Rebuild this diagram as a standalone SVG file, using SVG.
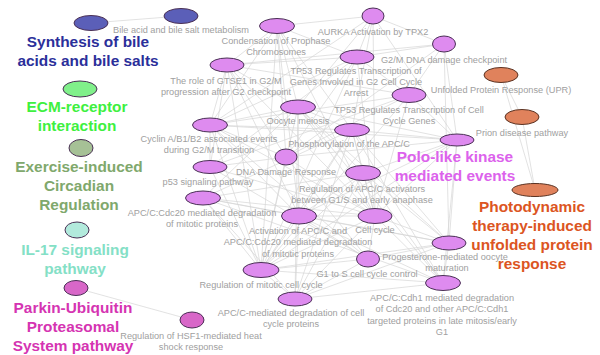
<svg xmlns="http://www.w3.org/2000/svg" width="600" height="355" viewBox="0 0 600 355">
<style>
.e line{stroke:#d6d6d6;stroke-width:0.7;fill:none}
.n{stroke:#4a3055;stroke-width:1}
.p{fill:#de8bef}
.o{fill:#e0825c;stroke:#5a3222}
.lb{font-family:"Liberation Sans",Arial,sans-serif;font-size:9.2px;fill:#a0a0a0;text-anchor:middle}
.big{font-family:"Liberation Sans",Arial,sans-serif;font-size:15.4px;font-weight:bold;text-anchor:middle}
</style>
<rect width="600" height="355" fill="#ffffff"/>
<g id="connectors" class="e">
<line x1="91" y1="23" x2="181" y2="16"/>
<line x1="76" y1="288" x2="192" y2="320"/>
<line x1="501" y1="75" x2="522" y2="117"/>
<line x1="522" y1="117" x2="535" y2="190"/>
<line x1="501" y1="75" x2="535" y2="190"/>
<line x1="277" y1="26" x2="373" y2="16"/>
<line x1="277" y1="26" x2="357" y2="57"/>
<line x1="277" y1="26" x2="227" y2="65"/>
<line x1="277" y1="26" x2="298" y2="107"/>
<line x1="277" y1="26" x2="210" y2="125"/>
<line x1="277" y1="26" x2="352" y2="130"/>
<line x1="277" y1="26" x2="299" y2="216"/>
<line x1="277" y1="26" x2="261" y2="270"/>
<line x1="277" y1="26" x2="375" y2="216"/>
<line x1="277" y1="26" x2="286" y2="157"/>
<line x1="373" y1="16" x2="444" y2="44"/>
<line x1="373" y1="16" x2="357" y2="57"/>
<line x1="373" y1="16" x2="352" y2="130"/>
<line x1="373" y1="16" x2="457" y2="140"/>
<line x1="373" y1="16" x2="210" y2="125"/>
<line x1="373" y1="16" x2="298" y2="107"/>
<line x1="373" y1="16" x2="375" y2="216"/>
<line x1="444" y1="44" x2="357" y2="57"/>
<line x1="444" y1="44" x2="409" y2="95"/>
<line x1="444" y1="44" x2="457" y2="140"/>
<line x1="444" y1="44" x2="449" y2="243"/>
<line x1="444" y1="44" x2="286" y2="157"/>
<line x1="444" y1="44" x2="227" y2="65"/>
<line x1="357" y1="57" x2="227" y2="65"/>
<line x1="357" y1="57" x2="409" y2="95"/>
<line x1="357" y1="57" x2="286" y2="157"/>
<line x1="357" y1="57" x2="210" y2="167"/>
<line x1="357" y1="57" x2="210" y2="125"/>
<line x1="357" y1="57" x2="375" y2="216"/>
<line x1="357" y1="57" x2="261" y2="270"/>
<line x1="227" y1="65" x2="210" y2="125"/>
<line x1="227" y1="65" x2="210" y2="167"/>
<line x1="227" y1="65" x2="286" y2="157"/>
<line x1="227" y1="65" x2="375" y2="216"/>
<line x1="227" y1="65" x2="261" y2="270"/>
<line x1="227" y1="65" x2="299" y2="216"/>
<line x1="227" y1="65" x2="409" y2="95"/>
<line x1="227" y1="65" x2="298" y2="107"/>
<line x1="409" y1="95" x2="210" y2="167"/>
<line x1="409" y1="95" x2="286" y2="157"/>
<line x1="409" y1="95" x2="375" y2="216"/>
<line x1="409" y1="95" x2="457" y2="140"/>
<line x1="409" y1="95" x2="261" y2="270"/>
<line x1="409" y1="95" x2="210" y2="125"/>
<line x1="298" y1="107" x2="352" y2="130"/>
<line x1="298" y1="107" x2="449" y2="243"/>
<line x1="298" y1="107" x2="299" y2="216"/>
<line x1="298" y1="107" x2="203" y2="198"/>
<line x1="298" y1="107" x2="363" y2="173"/>
<line x1="298" y1="107" x2="443" y2="283"/>
<line x1="298" y1="107" x2="295" y2="299"/>
<line x1="298" y1="107" x2="457" y2="140"/>
<line x1="298" y1="107" x2="210" y2="125"/>
<line x1="298" y1="107" x2="375" y2="216"/>
<line x1="298" y1="107" x2="261" y2="270"/>
<line x1="210" y1="125" x2="352" y2="130"/>
<line x1="210" y1="125" x2="375" y2="216"/>
<line x1="210" y1="125" x2="457" y2="140"/>
<line x1="210" y1="125" x2="261" y2="270"/>
<line x1="210" y1="125" x2="299" y2="216"/>
<line x1="210" y1="125" x2="368" y2="259"/>
<line x1="210" y1="125" x2="286" y2="157"/>
<line x1="210" y1="125" x2="210" y2="167"/>
<line x1="352" y1="130" x2="457" y2="140"/>
<line x1="352" y1="130" x2="363" y2="173"/>
<line x1="352" y1="130" x2="299" y2="216"/>
<line x1="352" y1="130" x2="203" y2="198"/>
<line x1="352" y1="130" x2="443" y2="283"/>
<line x1="352" y1="130" x2="295" y2="299"/>
<line x1="352" y1="130" x2="449" y2="243"/>
<line x1="352" y1="130" x2="261" y2="270"/>
<line x1="352" y1="130" x2="375" y2="216"/>
<line x1="457" y1="140" x2="375" y2="216"/>
<line x1="457" y1="140" x2="449" y2="243"/>
<line x1="457" y1="140" x2="261" y2="270"/>
<line x1="457" y1="140" x2="443" y2="283"/>
<line x1="457" y1="140" x2="299" y2="216"/>
<line x1="457" y1="140" x2="363" y2="173"/>
<line x1="457" y1="140" x2="286" y2="157"/>
<line x1="286" y1="157" x2="210" y2="167"/>
<line x1="286" y1="157" x2="375" y2="216"/>
<line x1="286" y1="157" x2="261" y2="270"/>
<line x1="286" y1="157" x2="368" y2="259"/>
<line x1="210" y1="167" x2="375" y2="216"/>
<line x1="210" y1="167" x2="368" y2="259"/>
<line x1="210" y1="167" x2="261" y2="270"/>
<line x1="363" y1="173" x2="299" y2="216"/>
<line x1="363" y1="173" x2="203" y2="198"/>
<line x1="363" y1="173" x2="443" y2="283"/>
<line x1="363" y1="173" x2="295" y2="299"/>
<line x1="363" y1="173" x2="449" y2="243"/>
<line x1="363" y1="173" x2="261" y2="270"/>
<line x1="363" y1="173" x2="375" y2="216"/>
<line x1="203" y1="198" x2="299" y2="216"/>
<line x1="203" y1="198" x2="295" y2="299"/>
<line x1="203" y1="198" x2="443" y2="283"/>
<line x1="203" y1="198" x2="449" y2="243"/>
<line x1="203" y1="198" x2="261" y2="270"/>
<line x1="203" y1="198" x2="375" y2="216"/>
<line x1="299" y1="216" x2="295" y2="299"/>
<line x1="299" y1="216" x2="443" y2="283"/>
<line x1="299" y1="216" x2="449" y2="243"/>
<line x1="299" y1="216" x2="261" y2="270"/>
<line x1="299" y1="216" x2="375" y2="216"/>
<line x1="299" y1="216" x2="368" y2="259"/>
<line x1="375" y1="216" x2="368" y2="259"/>
<line x1="375" y1="216" x2="261" y2="270"/>
<line x1="375" y1="216" x2="449" y2="243"/>
<line x1="375" y1="216" x2="443" y2="283"/>
<line x1="375" y1="216" x2="295" y2="299"/>
<line x1="449" y1="243" x2="443" y2="283"/>
<line x1="449" y1="243" x2="295" y2="299"/>
<line x1="449" y1="243" x2="261" y2="270"/>
<line x1="449" y1="243" x2="368" y2="259"/>
<line x1="368" y1="259" x2="261" y2="270"/>
<line x1="368" y1="259" x2="295" y2="299"/>
<line x1="261" y1="270" x2="295" y2="299"/>
<line x1="261" y1="270" x2="443" y2="283"/>
<line x1="295" y1="299" x2="443" y2="283"/>
</g>
<g id="synthesis">
<ellipse class="n" cx="91" cy="23" rx="17" ry="7.5" fill="#5b5fb8" stroke="#2a2a60"/>
<text class="big" fill="#2b2f9a" x="88" y="47">Synthesis of bile</text>
<text class="big" fill="#2b2f9a" x="88" y="66">acids and bile salts</text>
</g>
<g id="bile">
<ellipse class="n" cx="181" cy="16" rx="17" ry="7.5" fill="#5b5fb8"/>
<text class="lb" x="181" y="32.5">Bile acid and bile salt metabolism</text>
</g>
<g id="ecm">
<ellipse class="n" cx="80" cy="89" rx="17" ry="8" fill="#80f08a"/>
<text class="big" fill="#3ef040" x="77" y="112">ECM-receptor</text>
<text class="big" fill="#3ef040" x="77" y="131">interaction</text>
</g>
<g id="exercise">
<ellipse class="n" cx="81" cy="148" rx="12" ry="8.5" fill="#a6c196"/>
<text class="big" fill="#80a86c" x="79" y="172">Exercise-induced</text>
<text class="big" fill="#80a86c" x="79" y="191">Circadian</text>
<text class="big" fill="#80a86c" x="79" y="210">Regulation</text>
</g>
<g id="il17">
<ellipse class="n" cx="77" cy="230" rx="12" ry="8" fill="#b2eadc"/>
<text class="big" fill="#84e0c6" x="75" y="255">IL-17 signaling</text>
<text class="big" fill="#84e0c6" x="75" y="274">pathway</text>
</g>
<g id="parkin">
<ellipse class="n" cx="76" cy="288" rx="12" ry="7.5" fill="#d867c8"/>
<text class="big" fill="#d534b2" x="73" y="313">Parkin-Ubiquitin</text>
<text class="big" fill="#d534b2" x="73" y="332">Proteasomal</text>
<text class="big" fill="#d534b2" x="73" y="351">System pathway</text>
</g>
<g id="hsf1">
<ellipse class="n" cx="192" cy="320" rx="12" ry="8" fill="#d867c8"/>
<text class="lb" x="191" y="338.5">Regulation of HSF1-mediated heat</text>
<text class="lb" x="191" y="350">shock response</text>
</g>
<g id="condensation">
<ellipse class="n p" cx="277" cy="26" rx="17.5" ry="7.5"/>
<text class="lb" x="276" y="43.5">Condensation of Prophase</text>
<text class="lb" x="276" y="55">Chromosomes</text>
</g>
<g id="aurka">
<ellipse class="n p" cx="373" cy="16" rx="11" ry="8"/>
<text class="lb" x="373" y="34.5">AURKA Activation by TPX2</text>
</g>
<g id="g2m">
<ellipse class="n p" cx="444" cy="44" rx="11.5" ry="8"/>
<text class="lb" x="444" y="62.5">G2/M DNA damage checkpoint</text>
</g>
<g id="tp53g2">
<ellipse class="n p" cx="357" cy="57" rx="17" ry="7"/>
<text class="lb" x="356" y="73.5">TP53 Regulates Transcription of</text>
<text class="lb" x="356" y="84.7">Genes Involved in G2 Cell Cycle</text>
<text class="lb" x="356" y="95.9">Arrest</text>
</g>
<g id="upr">
<ellipse class="n o" cx="501" cy="75" rx="17" ry="7.5"/>
<text class="lb" x="501" y="92.5">Unfolded Protein Response (UPR)</text>
</g>
<g id="gtse1">
<ellipse class="n p" cx="227" cy="65" rx="17" ry="7"/>
<text class="lb" x="226" y="83.5">The role of GTSE1 in G2/M</text>
<text class="lb" x="226" y="94.7">progression after G2 checkpoint</text>
</g>
<g id="tp53cc">
<ellipse class="n p" cx="409" cy="95" rx="17" ry="7.5"/>
<text class="lb" x="409" y="112.5">TP53 Regulates Transcription of Cell</text>
<text class="lb" x="409" y="123.7">Cycle Genes</text>
</g>
<g id="oocyte">
<ellipse class="n p" cx="298" cy="107" rx="17.5" ry="7"/>
<text class="lb" x="298" y="123.5">Oocyte meiosis</text>
</g>
<g id="prion">
<ellipse class="n o" cx="522" cy="117" rx="17" ry="7.5"/>
<text class="lb" x="522" y="135.5">Prion disease pathway</text>
</g>
<g id="cyclin">
<ellipse class="n p" cx="210" cy="125" rx="17.5" ry="7"/>
<text class="lb" x="209" y="141.5">Cyclin A/B1/B2 associated events</text>
<text class="lb" x="209" y="152.7">during G2/M transition</text>
</g>
<g id="phos">
<ellipse class="n p" cx="352" cy="130" rx="17.5" ry="6.5"/>
<text class="lb" x="349" y="146.5">Phosphorylation of the APC/C</text>
</g>
<g id="polo">
<ellipse class="n p" cx="457" cy="140" rx="17" ry="6"/>
<text class="big" fill="#dc62ec" x="455" y="162.3">Polo-like kinase</text>
<text class="big" fill="#dc62ec" x="455" y="181.3">mediated events</text>
</g>
<g id="dna">
<ellipse class="n p" cx="286" cy="157" rx="11" ry="8"/>
<text class="lb" x="286" y="174.5">DNA Damage Response</text>
</g>
<g id="p53">
<ellipse class="n p" cx="210" cy="167" rx="17" ry="6.5"/>
<text class="lb" x="208" y="184.5">p53 signaling pathway</text>
</g>
<g id="regact">
<ellipse class="n p" cx="363" cy="173" rx="17.5" ry="7.5"/>
<text class="lb" x="362" y="191.5">Regulation of APC/C activators</text>
<text class="lb" x="362" y="202.7">between G1/S and early anaphase</text>
</g>
<g id="photodynamic">
<ellipse class="n o" cx="535" cy="190" rx="23" ry="6.5"/>
<text class="big" fill="#dc5522" x="532" y="211.7">Photodynamic</text>
<text class="big" fill="#dc5522" x="532" y="230.7">therapy-induced</text>
<text class="big" fill="#dc5522" x="532" y="249.7">unfolded protein</text>
<text class="big" fill="#dc5522" x="532" y="268.7">response</text>
</g>
<g id="cdc20">
<ellipse class="n p" cx="203" cy="198" rx="17.5" ry="7"/>
<text class="lb" x="202" y="215.5">APC/C:Cdc20 mediated degradation</text>
<text class="lb" x="202" y="226.7">of mitotic proteins</text>
</g>
<g id="activation">
<ellipse class="n p" cx="299" cy="216" rx="17.5" ry="8"/>
<text class="lb" x="298" y="233.5">Activation of APC/C and</text>
<text class="lb" x="298" y="245">APC/C:Cdc20 mediated degradation</text>
<text class="lb" x="298" y="256.5">of mitotic proteins</text>
</g>
<g id="cellcycle">
<ellipse class="n p" cx="375" cy="216" rx="17" ry="7.5"/>
<text class="lb" x="375" y="232.5">Cell cycle</text>
</g>
<g id="progesterone">
<ellipse class="n p" cx="449" cy="243" rx="17" ry="7"/>
<text class="lb" x="445" y="259.5">Progesterone-mediated oocyte</text>
<text class="lb" x="447" y="271">maturation</text>
</g>
<g id="g1s">
<ellipse class="n p" cx="368" cy="259" rx="11.5" ry="8"/>
<text class="lb" x="367" y="276.5">G1 to S cell cycle control</text>
</g>
<g id="regmitotic">
<ellipse class="n p" cx="261" cy="270" rx="18" ry="7.5"/>
<text class="lb" x="261" y="287.5">Regulation of mitotic cell cycle</text>
</g>
<g id="cdh1">
<ellipse class="n p" cx="443" cy="283" rx="17.5" ry="7.5"/>
<text class="lb" x="442" y="300.5">APC/C:Cdh1 mediated degradation</text>
<text class="lb" x="442" y="312">of Cdc20 and other APC/C:Cdh1</text>
<text class="lb" x="442" y="323.5">targeted proteins in late mitosis/early</text>
<text class="lb" x="442" y="335">G1</text>
</g>
<g id="apcmediated">
<ellipse class="n p" cx="295" cy="299" rx="17" ry="7"/>
<text class="lb" x="291" y="315.5">APC/C-mediated degradation of cell</text>
<text class="lb" x="291" y="327">cycle proteins</text>
</g>
</svg>
